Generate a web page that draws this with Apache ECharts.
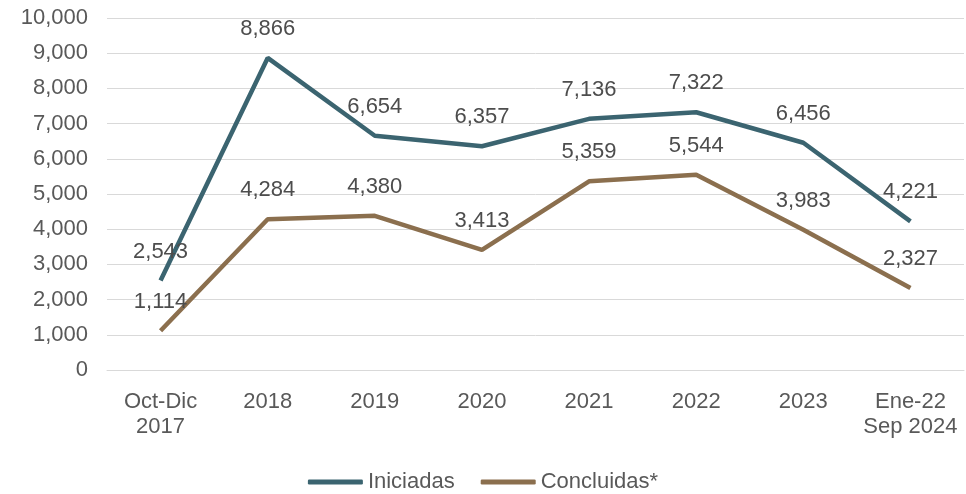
<!DOCTYPE html>
<html>
<head>
<meta charset="utf-8">
<script src="https://cdn.jsdelivr.net/npm/echarts@6/dist/echarts.min.js"></script>
<style>
  html, body { margin: 0; padding: 0; background: #fff; }
  #chart { width: 966px; height: 494px; }
</style>
</head>
<body>
<div id="chart"></div>
<script>
const categories = ['Oct-Dic\n2017', '2018', '2019', '2020', '2021', '2022', '2023', 'Ene-22\nSep 2024'];
const iniciadas = [2543, 8866, 6654, 6357, 7136, 7322, 6456, 4221];
const concluidas = [1114, 4284, 4380, 3413, 5359, 5544, 3983, 2327];
const seriesNames = ['Iniciadas', 'Concluidas*'];

const font = '"Liberation Sans", Arial, sans-serif';
const fmt = v => v.toLocaleString('en-US');

const chart = echarts.init(document.getElementById('chart'));

const makeSeries = (name, data, color) => ({
    name: name,
    type: 'line',
    data: data,
    symbol: 'circle',
    symbolSize: 0,
    showSymbol: true,
    lineStyle: { color: color, width: 4.5 },
    itemStyle: { color: color },
    label: {
        show: true,
        position: 'top',
        distance: 18,
        color: '#4d4d4d',
        fontSize: 22,
        fontFamily: font,
        formatter: p => fmt(p.value)
    },
    labelLayout: { hideOverlap: false }
});

chart.setOption({
    animation: false,
    textStyle: { fontFamily: font },
    grid: { left: 107, right: 2, top: 18, bottom: 124 },
    legend: {
        bottom: -4,
        left: 'center',
        itemWidth: 55,
        itemHeight: 5,
        itemGap: 26,
        icon: 'roundRect',
        textStyle: { color: '#595959', fontSize: 22, fontFamily: font },
        data: seriesNames
    },
    xAxis: {
        type: 'category',
        data: categories,
        boundaryGap: true,
        axisLine: { show: true, lineStyle: { color: '#d9d9d9', width: 1 } },
        axisTick: { show: false },
        axisLabel: {
            color: '#595959',
            fontSize: 22,
            fontFamily: font,
            lineHeight: 25,
            margin: 19,
            interval: 0
        }
    },
    yAxis: {
        type: 'value',
        min: 0,
        max: 10000,
        interval: 1000,
        axisLine: { show: false },
        axisTick: { show: false },
        splitLine: { lineStyle: { color: '#d9d9d9', width: 1 } },
        axisLabel: {
            color: '#595959',
            fontSize: 22,
            fontFamily: font,
            margin: 19,
            formatter: v => fmt(v)
        }
    },
    series: [
        makeSeries(seriesNames[0], iniciadas, '#3b6470'),
        makeSeries(seriesNames[1], concluidas, '#8b6f4e')
    ]
});
</script>
</body>
</html>
